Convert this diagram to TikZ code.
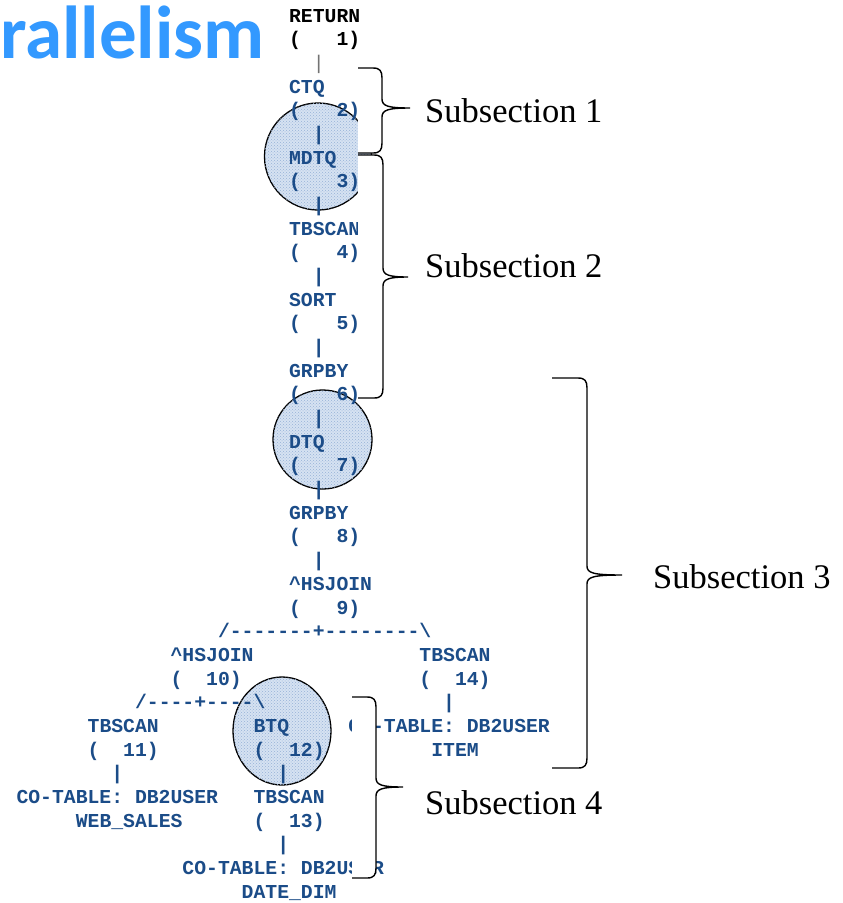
\documentclass[tikz,border=0pt]{standalone}
\usepackage{fontspec}
\usetikzlibrary{patterns}
\newfontfamily\planfont{Liberation Mono}[Ligatures=TeXOff]
\newfontfamily\labelfont{Liberation Serif}
\newfontfamily\titlefont{Carlito}
\definecolor{planblue}{RGB}{27,76,136}
\definecolor{titleblue}{RGB}{51,153,255}
\definecolor{spotfill}{RGB}{214,226,242}
\definecolor{spotdots}{RGB}{150,178,214}

% right-facing curly brace: x0, ytop, ybottom, x of spine, x of tip, y of tip
\newcommand{\subbrace}[6]{%
  \filldraw[bracestyle] (#1,#2) -- ({#4-9},#2)
    .. controls ({#4-2},#2) and (#4,{#2+3}) .. (#4,{#2+10})
    -- (#4,{#6-9})
    .. controls (#4,{#6-2}) and ({#4+6},#6) .. (#5,#6)
    .. controls ({#4+6},#6) and (#4,{#6+2}) .. (#4,{#6+9})
    -- (#4,{#3-10})
    .. controls (#4,{#3-3}) and ({#4-2},#3) .. ({#4-9},#3)
    -- (#1,#3);}

\tikzset{
  plan/.style={font=\planfont\fontsize{19.75}{20}\selectfont\bfseries,
    text=planblue, anchor=base west, inner sep=0pt, outer sep=0pt},
  planroot/.style={plan, text=black},
  planbar/.style={plan, font=\planfont\fontsize{19.75}{20}\selectfont, text=black!55},
  spot/.style={draw=black, line width=1.3pt, fill=spotfill,
    postaction={pattern=crosshatch dots, pattern color=spotdots}},
  bracestyle/.style={draw=black, fill=white, line width=1.4pt},
  sublabel/.style={font=\labelfont\fontsize{34.5}{36}\selectfont, anchor=base west,
    inner sep=0pt, text=black},
}

\begin{document}
\begin{tikzpicture}[x=1pt, y=-1pt]
\useasboundingbox (0,0) rectangle (843,903);
\fill[white] (0,0) rectangle (843,903);

% heading fragment
\node[font=\titlefont\bfseries\fontsize{75}{78}\selectfont, text=titleblue,
      anchor=base west, inner sep=0pt] (title) at (0,58) {rallelism};

% highlighted operators
\draw[spot] (318,156.5) circle (53.5);
\draw[spot] (322.5,439.5) circle (49.5);
\draw[spot] (282,731) ellipse (49 and 54);

% access plan text, laid out on a character grid
\begin{scope}[xshift=218pt, yshift=-22pt, x=11.85pt, y=-23.68pt]
  \node[planroot] (op1)  at (6,0)  {RETURN};
  \node[planroot] (n1)   at (6,1)  {(~~~1)};
  \node[planbar]  (v1)   at (8,2)  {|};
  \node[plan] (op2)  at (6,3)  {CTQ};
  \node[plan] (n2)   at (6,4)  {(~~~2)};
  \node[plan] (v2)   at (8,5)  {|};
  \node[plan] (op3)  at (6,6)  {MDTQ};
  \node[plan] (n3)   at (6,7)  {(~~~3)};
  \node[plan] (v3)   at (8,8)  {|};
  \node[plan] (op4)  at (6,9)  {TBSCAN};
  \node[plan] (n4)   at (6,10) {(~~~4)};
  \node[plan] (v4)   at (8,11) {|};
  \node[plan] (op5)  at (6,12) {SORT};
  \node[plan] (n5)   at (6,13) {(~~~5)};
  \node[plan] (v5)   at (8,14) {|};
  \node[plan] (op6)  at (6,15) {GRPBY};
  \node[plan] (n6)   at (6,16) {(~~~6)};
  \node[plan] (v6)   at (8,17) {|};
  \node[plan] (op7)  at (6,18) {DTQ};
  \node[plan] (n7)   at (6,19) {(~~~7)};
  \node[plan] (v7)   at (8,20) {|};
  \node[plan] (op8)  at (6,21) {GRPBY};
  \node[plan] (n8)   at (6,22) {(~~~8)};
  \node[plan] (v8)   at (8,23) {|};
  \node[plan] (op9)  at (6,24) {\textasciicircum HSJOIN};
  \node[plan] (n9)   at (6,25) {(~~~9)};
  \node[plan] (fork9) at (0,26) {/-------+--------\textbackslash};
  \node[plan] (op10) at (-4,27) {\textasciicircum HSJOIN};
  \node[plan] (n10)  at (-4,28) {(~~10)};
  \node[plan] (fork10) at (-7,29) {/----+----\textbackslash};
  \node[plan] (op14) at (17,27) {TBSCAN};
  \node[plan] (n14)  at (17,28) {(~~14)};
  \node[plan] (v14)  at (19,29) {|};
  \node[plan] (tab14) at (11,30) {CO-TABLE:~DB2USER};
  \node[plan] (name14) at (18,31) {ITEM};
  \node[plan] (op11) at (-11,30) {TBSCAN};
  \node[plan] (n11)  at (-11,31) {(~~11)};
  \node[plan] (v11)  at (-9,32) {|};
  \node[plan] (tab11) at (-17,33) {CO-TABLE:~DB2USER};
  \node[plan] (name11) at (-12,34) {WEB\_SALES};
  \node[plan] (op12) at (3,30) {BTQ};
  \node[plan] (n12)  at (3,31) {(~~12)};
  \node[plan] (v12)  at (5,32) {|};
  \node[plan] (op13) at (3,33) {TBSCAN};
  \node[plan] (n13)  at (3,34) {(~~13)};
  \node[plan] (v13)  at (5,35) {|};
  \node[plan] (tab13) at (-3,36) {CO-TABLE:~DB2USER};
  \node[plan] (name13) at (2,37) {DATE\_DIM};
\end{scope}

% subsection braces and their labels
\subbrace{358}{68}{153}{382}{410}{108}
\subbrace{358}{155}{398}{383}{408}{277}
\subbrace{552}{378}{768}{587}{622}{575}
\subbrace{352}{697}{878}{376}{403}{787}

\node[sublabel] (sub1) at (425,122) {Subsection 1};
\node[sublabel] (sub2) at (425,277) {Subsection 2};
\node[sublabel] (sub3) at (653,588) {Subsection 3};
\node[sublabel] (sub4) at (425,814) {Subsection 4};
\end{tikzpicture}
\end{document}
